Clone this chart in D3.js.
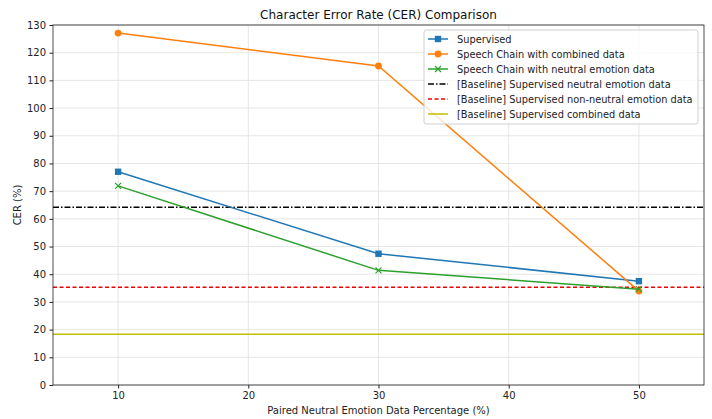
<!DOCTYPE html>
<html>
<head>
<meta charset="utf-8">
<script src="https://cdn.jsdelivr.net/npm/d3@7/dist/d3.min.js"></script>
<style>
body { margin: 0; background: #fff; }
text { font-family: "DejaVu Sans", sans-serif; }
</style>
</head>
<body>
<div id="main"></div>
<script>
var percentages = [10, 30, 50];
var supervised = [77, 47.4, 37.5];
var chainCombined = [127.1, 115.2, 33.9];
var chainNeutral = [71.9, 41.4, 34.6];
var baselineNeutral = 64.2;
var baselineNonNeutral = 35.3;
var baselineCombined = 18.3;
var xTicks = [10, 20, 30, 40, 50];
var yTicks = d3.range(0, 131, 10);

var svg = d3.select('#main').append('svg')
    .attr('width', 712)
    .attr('height', 419);

var padding = {t: 25, r: 8, b: 34, l: 53};
var cellWidth = 712 - padding.l - padding.r;
var cellHeight = 419 - padding.t - padding.b;

var chart = svg.append('g')
    .attr('transform', 'translate(' + [padding.l, padding.t] + ')');

var xScale = d3.scaleLinear().domain([5, 55]).range([0, cellWidth]);
var yScale = d3.scaleLinear().domain([0, 130]).range([cellHeight, 0]);

// grid
chart.append('g').selectAll('line')
    .data(xTicks).enter().append('line')
    .attr('x1', function(d) { return xScale(d); })
    .attr('x2', function(d) { return xScale(d); })
    .attr('y1', 0).attr('y2', cellHeight)
    .attr('stroke', '#e0e0e0').attr('stroke-width', 0.8);
chart.append('g').selectAll('line')
    .data(yTicks).enter().append('line')
    .attr('y1', function(d) { return yScale(d); })
    .attr('y2', function(d) { return yScale(d); })
    .attr('x1', 0).attr('x2', cellWidth)
    .attr('stroke', '#e0e0e0').attr('stroke-width', 0.8);

var xAxis = chart.append('g')
    .attr('transform', 'translate(' + [0, cellHeight] + ')')
    .call(d3.axisBottom(xScale).tickValues(xTicks).tickSize(3.5).tickPadding(3.5));
var yAxis = chart.append('g')
    .call(d3.axisLeft(yScale).tickValues(yTicks).tickSize(3.5).tickPadding(3.5));
[xAxis, yAxis].forEach(function(a) {
    a.selectAll('text').style('font-size', '10px').attr('fill', '#222');
    a.selectAll('line').attr('stroke', '#222');
    a.select('.domain').remove();
});

// baselines
var baselines = [
    {v: baselineNeutral, color: '#000', dash: '6,2,1.5,2'},
    {v: baselineNonNeutral, color: '#e00', dash: '4,2.5'},
    {v: baselineCombined, color: '#bfbf00', dash: null}
];
chart.append('g').selectAll('line')
    .data(baselines).enter().append('line')
    .attr('x1', 0).attr('x2', cellWidth)
    .attr('y1', function(d) { return yScale(d.v); })
    .attr('y2', function(d) { return yScale(d.v); })
    .attr('stroke', function(d) { return d.color; })
    .attr('stroke-width', 1.5)
    .attr('stroke-dasharray', function(d) { return d.dash; });

var line = d3.line()
    .x(function(d, i) { return xScale(percentages[i]); })
    .y(function(d) { return yScale(d); });

var series = [
    {name: 'Supervised', values: supervised, color: '#1f77b4', marker: 'square'},
    {name: 'Speech Chain with combined data', values: chainCombined, color: '#ff7f0e', marker: 'circle'},
    {name: 'Speech Chain with neutral emotion data', values: chainNeutral, color: '#2ca02c', marker: 'x'}
];

function drawMarker(g, type, color) {
    if (type == 'square') {
        g.append('rect').attr('x', -3.2).attr('y', -3.2).attr('width', 6.4).attr('height', 6.4)
            .attr('fill', color);
    } else if (type == 'circle') {
        g.append('circle').attr('r', 3.4).attr('fill', color);
    } else {
        g.append('path').attr('d', 'M-3,-3L3,3M-3,3L3,-3')
            .attr('stroke', color).attr('stroke-width', 1.2).attr('fill', 'none');
    }
}

series.forEach(function(s) {
    chart.append('path')
        .datum(s.values)
        .attr('d', line)
        .attr('fill', 'none')
        .attr('stroke', s.color)
        .attr('stroke-width', 1.5);
    s.values.forEach(function(v, i) {
        var g = chart.append('g')
            .attr('transform', 'translate(' + [xScale(percentages[i]), yScale(v)] + ')');
        drawMarker(g, s.marker, s.color);
    });
});

// frame
chart.append('rect')
    .attr('width', cellWidth).attr('height', cellHeight)
    .attr('fill', 'none').attr('stroke', '#222').attr('stroke-width', 0.8);

// legend
var legendItems = [
    {name: 'Supervised', color: '#1f77b4', marker: 'square', dash: null},
    {name: 'Speech Chain with combined data', color: '#ff7f0e', marker: 'circle', dash: null},
    {name: 'Speech Chain with neutral emotion data', color: '#2ca02c', marker: 'x', dash: null},
    {name: '[Baseline] Supervised neutral emotion data', color: '#000', marker: null, dash: '6,2,1.5,2'},
    {name: '[Baseline] Supervised non-neutral emotion data', color: '#e00', marker: null, dash: '4,2.5'},
    {name: '[Baseline] Supervised combined data', color: '#bfbf00', marker: null, dash: null}
];
var leg = svg.append('g').attr('transform', 'translate(424, 30)');
leg.append('rect')
    .attr('width', 274).attr('height', 94).attr('rx', 2.5)
    .attr('fill', 'rgba(255,255,255,0.8)').attr('stroke', '#d0d0d0');
var row = leg.selectAll('g.row')
    .data(legendItems).enter().append('g')
    .attr('class', 'row')
    .attr('transform', function(d, i) { return 'translate(0,' + (9 + i * 15) + ')'; });
row.append('line')
    .attr('x1', 4).attr('x2', 24)
    .attr('stroke', function(d) { return d.color; })
    .attr('stroke-width', 1.5)
    .attr('stroke-dasharray', function(d) { return d.dash; });
row.each(function(d) {
    if (d.marker) {
        var g = d3.select(this).append('g').attr('transform', 'translate(14,0)');
        drawMarker(g, d.marker, d.color);
    }
});
row.append('text')
    .attr('x', 33).attr('y', 3.6)
    .style('font-size', '9.8px').attr('fill', '#222')
    .text(function(d) { return d.name; });

// titles
svg.append('text')
    .attr('x', padding.l + cellWidth / 2).attr('y', 19)
    .attr('text-anchor', 'middle')
    .style('font-size', '12px').attr('fill', '#111')
    .text('Character Error Rate (CER) Comparison');
svg.append('text')
    .attr('x', padding.l + cellWidth / 2).attr('y', 414)
    .attr('text-anchor', 'middle')
    .style('font-size', '10px').attr('fill', '#222')
    .text('Paired Neutral Emotion Data Percentage (%)');
svg.append('text')
    .attr('transform', 'translate(21,' + (padding.t + cellHeight / 2) + ') rotate(-90)')
    .attr('text-anchor', 'middle')
    .style('font-size', '10px').attr('fill', '#222')
    .text('CER (%)');
</script>
</body>
</html>
